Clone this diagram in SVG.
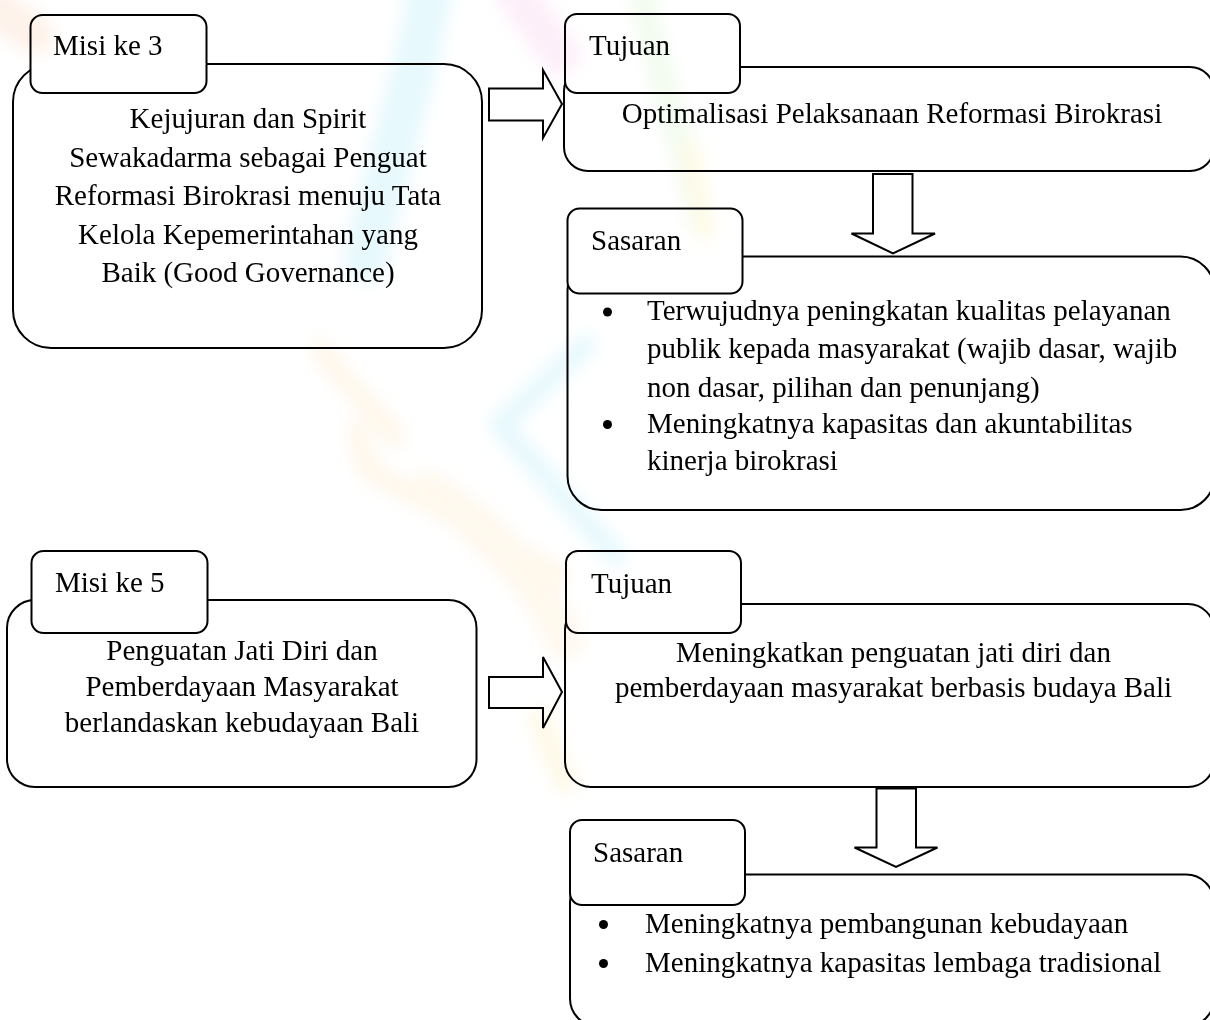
<svg xmlns="http://www.w3.org/2000/svg" width="1210" height="1020" viewBox="0 0 1210 1020">
<defs>
<style>
.box{fill:#fff;stroke:#000;stroke-width:2}
.arrow{fill:#fff;stroke:#000;stroke-width:2;stroke-linejoin:miter}
.t{font-family:"Liberation Serif","Times New Roman",serif;font-size:29px;fill:#000}
.c{text-anchor:middle}
.wm{fill:none;stroke-linecap:round;stroke-linejoin:round}
</style>
<filter id="soft" x="-20%" y="-20%" width="140%" height="140%"><feGaussianBlur stdDeviation="8"/></filter>
</defs>
<rect x="0" y="0" width="1210" height="1020" fill="#fff"/>

<g id="connectors">
<path class="arrow" d="M489 88.5 L543 88.5 L543 70 L562 104 L543 138 L543 120.5 L489 120.5 Z"/>
<path class="arrow" d="M873 174 L912.5 174 L912.5 233.5 L935 233.5 L893 253.5 L851.5 233.5 L873 233.5 Z"/>
<path class="arrow" d="M489 677 L543 677 L543 657 L562 692 L543 728 L543 708 L489 708 Z"/>
<path class="arrow" d="M876.5 788.5 L916 788.5 L916 847.5 L937.5 847.5 L896 867 L854.5 847.5 L876.5 847.5 Z"/>
</g>

<g id="misi3">
<rect class="box" x="13" y="64" width="469" height="284" rx="38"/>
<rect class="box" x="30.5" y="15" width="176" height="78" rx="12"/>
<text class="t" x="53" y="55">Misi ke 3</text>
<text class="t c" x="248" y="128">Kejujuran dan Spirit</text>
<text class="t c" x="248" y="166.5">Sewakadarma sebagai Penguat</text>
<text class="t c" x="248" y="205">Reformasi Birokrasi menuju Tata</text>
<text class="t c" x="248" y="243.5">Kelola Kepemerintahan yang</text>
<text class="t c" x="248" y="282">Baik (Good Governance)</text>
</g>

<g id="tujuan1">
<rect class="box" x="564" y="67" width="650" height="104" rx="24"/>
<rect class="box" x="565" y="14" width="175" height="79" rx="12"/>
<text class="t" x="589" y="55">Tujuan</text>
<text class="t c" x="892" y="123">Optimalisasi Pelaksanaan Reformasi Birokrasi</text>
</g>

<g id="sasaran1">
<rect class="box" x="567.5" y="256.5" width="647" height="253.5" rx="34"/>
<rect class="box" x="567.5" y="208.5" width="175" height="85" rx="12"/>
<text class="t" x="591" y="250">Sasaran</text>
<circle cx="607.5" cy="312" r="4.5"/>
<circle cx="607.5" cy="424.5" r="4.5"/>
<text class="t" x="647" y="320">Terwujudnya peningkatan kualitas pelayanan</text>
<text class="t" x="647" y="358">publik kepada masyarakat (wajib dasar, wajib</text>
<text class="t" x="647" y="396.5">non dasar, pilihan dan penunjang)</text>
<text class="t" x="647" y="433">Meningkatnya kapasitas dan akuntabilitas</text>
<text class="t" x="647" y="469.5">kinerja birokrasi</text>
</g>

<g id="misi5">
<rect class="box" x="7" y="600" width="469.5" height="187" rx="28"/>
<rect class="box" x="31.5" y="551" width="176" height="82" rx="12"/>
<text class="t" x="55" y="592">Misi ke 5</text>
<text class="t c" x="242" y="660">Penguatan Jati Diri dan</text>
<text class="t c" x="242" y="696">Pemberdayaan Masyarakat</text>
<text class="t c" x="242" y="732">berlandaskan kebudayaan Bali</text>
</g>

<g id="tujuan2">
<rect class="box" x="565" y="604" width="649" height="183" rx="26"/>
<rect class="box" x="566" y="551" width="175" height="82" rx="12"/>
<text class="t" x="591" y="593">Tujuan</text>
<text class="t c" x="893.5" y="662">Meningkatkan penguatan jati diri dan</text>
<text class="t c" x="893.5" y="697">pemberdayaan masyarakat berbasis budaya Bali</text>
</g>

<g id="sasaran2">
<rect class="box" x="570" y="874.5" width="644" height="152" rx="28"/>
<rect class="box" x="570" y="820" width="175" height="85" rx="12"/>
<text class="t" x="593" y="862">Sasaran</text>
<circle cx="603.5" cy="924.5" r="4.5"/>
<circle cx="603.5" cy="963.5" r="4.5"/>
<text class="t" x="645" y="933">Meningkatnya pembangunan kebudayaan</text>
<text class="t" x="645" y="972">Meningkatnya kapasitas lembaga tradisional</text>
</g>

<g id="watermark" style="mix-blend-mode:multiply" filter="url(#soft)" opacity="0.28">
<path class="wm" stroke="#a8e8f8" stroke-width="44" d="M430 -10 C415 80 385 170 365 260"/>
<path class="wm" stroke="#a8e8f8" stroke-width="22" d="M585 345 L500 425 L615 555"/>
<path class="wm" stroke="#f9c6ea" stroke-width="40" d="M515 -10 C530 15 545 35 560 55"/>
<path class="wm" stroke="#fbd3b5" stroke-width="40" d="M-10 5 L35 35"/>
<path class="wm" stroke="#fde0b0" stroke-width="20" d="M320 350 L395 437"/>
<path class="wm" stroke="#fde0b0" stroke-width="20" d="M357 430 L368 470 L560 575"/>
<path class="wm" stroke="#fde6c0" stroke-width="38" d="M430 490 C490 530 535 575 565 640"/>
<path class="wm" stroke="#fbe7a8" stroke-width="24" d="M540 720 L565 780"/>
<path class="wm" stroke="#d3f2c8" stroke-width="26" d="M640 -10 C660 80 685 150 700 220"/>
<path class="wm" stroke="#fbeea8" stroke-width="20" d="M690 150 L705 230"/>
</g>
</svg>
